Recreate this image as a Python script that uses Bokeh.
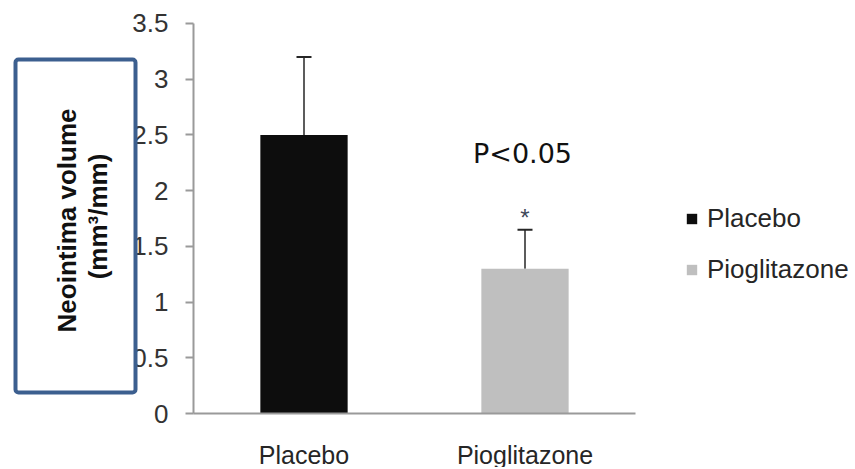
from bokeh.plotting import figure
from bokeh.models import (ColumnDataSource, Whisker, TeeHead, Label, Legend, LegendItem,
                          BoxAnnotation, FixedTicker, Range1d)
from bokeh.embed import file_html
from bokeh.resources import INLINE
from bokeh.core.properties import value

# ---- data ----
groups = ["Placebo", "Pioglitazone"]
means = [2.5, 1.3]
errors = [0.7, 0.35]
bar_colors = ["#0d0d0d", "#bfbfbf"]
star_marks = ["", "*"]
y_ticks = [0, 0.5, 1, 1.5, 2, 2.5, 3, 3.5]
y_tick_labels = ["0", "0.5", "1", "1.5", "2", "2.5", "3", "3.5"]
y_title_line1 = "Neointima volume"
y_title_line2 = "(mm\u00b3/mm)"
p_value_text = "P<0.05"

# category slots: group i is centred at i + 0.5 on a numeric axis 0..len(groups)
x_pos = [i + 0.5 for i in range(len(groups))]
upper = [m + e for m, e in zip(means, errors)]
src = ColumnDataSource(dict(x=x_pos, groups=groups, means=means, upper=upper,
                            colors=bar_colors, star=star_marks))

AX_FONT = "Liberation Sans"
W, H = 853, 467
# pixel geometry of the plotting area (axis origin / scale), used for view ranges
X0_PX, UNIT_X = 193, 221.0
Y0_PX, UNIT_Y = 413, 111.43

p = figure(x_range=Range1d(-X0_PX / UNIT_X, (W - X0_PX) / UNIT_X),
           y_range=Range1d((Y0_PX - H) / UNIT_Y, Y0_PX / UNIT_Y),
           width=W, height=H, min_border=0,
           output_backend="svg", toolbar_location=None)
p.outline_line_color = None
p.xgrid.grid_line_color = None
p.ygrid.grid_line_color = None
p.background_fill_color = "white"
p.border_fill_color = "white"

r = p.vbar(x="x", top="means", width=0.395, color="colors", source=src,
           line_color=None)

wh = Whisker(source=src, base="x", lower="means", upper="upper", dimension="height",
             lower_head=None,
             upper_head=TeeHead(size=15, line_color="#262626", line_width=2),
             line_color="#262626", line_width=1.5)
p.add_layout(wh)

p.text(x="x", y="upper", text="star", source=src, text_align="center",
       text_baseline="alphabetic", y_offset=-12, text_font=value(AX_FONT),
       text_font_size="24px", text_color="#404858")

# axes, fixed at the data origin
ya = p.yaxis[0]
ya.fixed_location = 0
ya.bounds = (y_ticks[0], y_ticks[-1])
ya.ticker = FixedTicker(ticks=y_ticks)
ya.major_label_overrides = {float(t): l for t, l in zip(y_ticks, y_tick_labels)}
ya.axis_line_color = "#9a9a9a"
ya.axis_line_width = 2
ya.major_tick_line_color = "#9a9a9a"
ya.major_tick_line_width = 2
ya.major_tick_out = 8
ya.major_tick_in = 0
ya.minor_tick_line_color = None
ya.major_label_standoff = 17
ya.major_label_text_font = AX_FONT
ya.major_label_text_font_size = "26px"
ya.major_label_text_color = "#333333"

xa = p.xaxis[0]
xa.fixed_location = 0
xa.bounds = (0, len(groups))
xa.ticker = FixedTicker(ticks=x_pos)
xa.major_label_overrides = {float(x): g for x, g in zip(x_pos, groups)}
xa.axis_line_color = "#9a9a9a"
xa.axis_line_width = 2
xa.major_tick_line_color = None
xa.minor_tick_line_color = None
xa.major_label_standoff = 21
xa.major_label_text_font = AX_FONT
xa.major_label_text_font_size = "25px"
xa.major_label_text_color = "#262626"

# y-title box and text (screen units)
box = BoxAnnotation(left=15, right=135, top=H - 59, bottom=H - 392,
                    left_units="screen", right_units="screen",
                    top_units="screen", bottom_units="screen",
                    fill_color="white", fill_alpha=1.0,
                    line_color="#3c5f8f", line_alpha=1.0, line_width=4, border_radius=3)
p.add_layout(box)

p.add_layout(Label(x=66, y=H - 220, x_units="screen", y_units="screen", text=y_title_line1,
                   angle=90, angle_units="deg", text_align="center", text_baseline="middle",
                   text_font=AX_FONT, text_font_style="bold", text_font_size="26px",
                   text_color="#111111"))
p.add_layout(Label(x=97, y=H - 216, x_units="screen", y_units="screen", text=y_title_line2,
                   angle=90, angle_units="deg", text_align="center", text_baseline="middle",
                   text_font=AX_FONT, text_font_style="bold", text_font_size="26px",
                   text_color="#111111"))

p.add_layout(Label(x=522, y=H - 153, x_units="screen", y_units="screen", text=p_value_text,
                   text_align="center", text_baseline="middle",
                   text_font="DejaVu Sans", text_font_size="27px", text_color="#111111"))

legend = Legend(items=[LegendItem(label=groups[0], renderers=[r], index=0),
                       LegendItem(label=groups[1], renderers=[r], index=1)],
                location=(685, H - 285), glyph_width=13, glyph_height=13,
                label_text_font=AX_FONT, label_text_font_size="26px",
                label_text_color="#262626", label_standoff=9, spacing=20,
                label_height=30, padding=0, margin=0,
                border_line_color=None, background_fill_alpha=0)
p.add_layout(legend)

open("out.html", "w").write(file_html(p, INLINE))
